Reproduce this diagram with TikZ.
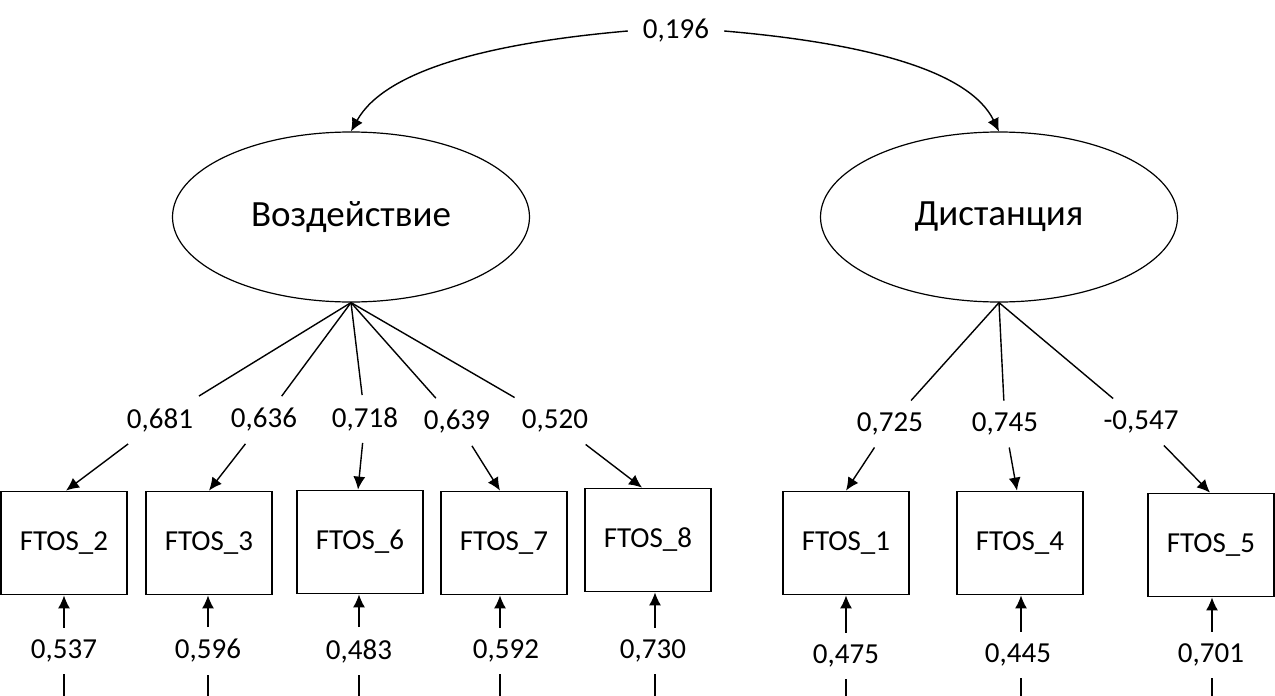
\documentclass[tikz,border=0pt]{standalone}
\usepackage{fontspec}
\setmainfont{Carlito}
\usetikzlibrary{shapes.geometric,arrows.meta}
\begin{document}
\begin{tikzpicture}[x=1pt,y=-1pt,
  lat/.style={draw,ellipse,line width=1.2pt,minimum width=357pt,minimum height=170pt,inner sep=0pt,font=\fontsize{37}{42}\selectfont},
  obs/.style={draw,rectangle,line width=1.8pt,minimum width=126pt,minimum height=103pt,inner sep=0pt,font=\fontsize{29}{34}\selectfont},
  lab/.style={inner xsep=15pt,inner ysep=12pt,font=\fontsize{29}{34}\selectfont},
  ln/.style={line width=1.4pt},
  arr/.style={line width=1.4pt,-{Latex[length=13pt,width=12pt]}}]
\useasboundingbox (0,0) rectangle (1275,696);
% latent variables
\node[lat] (e1) at (351,217) {Воздействие};
\node[lat] (e2) at (999,217) {Дистанция};
% covariance
\node[lab] (cov) at (676,31) {0,196};
\draw[arr] (cov.west) .. controls (490,43) and (385,70) .. (e1.north);
\draw[arr] (cov.east) .. controls (864,43) and (969,70) .. (e2.north);
% observed
\node[obs] (b2) at (64,543) {FTOS\_2};
\node[obs] (b3) at (209,543) {FTOS\_3};
\node[obs] (b6) at (360,542) {FTOS\_6};
\node[obs] (b7) at (504,543) {FTOS\_7};
\node[obs] (b8) at (648,540) {FTOS\_8};
\node[obs] (b1) at (846,543) {FTOS\_1};
\node[obs] (b4) at (1020,543) {FTOS\_4};
\node[obs] (b5) at (1211,545) {FTOS\_5};
% loadings
\node[lab] (l2) at (160,420) {0,681};
\node[lab] (l3) at (264,420) {0,636};
\node[lab] (l6) at (365,419) {0,718};
\node[lab] (l7) at (457,422) {0,639};
\node[lab] (l8) at (555,421) {0,520};
\node[lab] (l1) at (890,424) {0,725};
\node[lab] (l4) at (1005,424) {0,745};
\node[lab] (l5) at (1141,422) {-0,547};
\foreach \l/\b/\s in {l2/b2/2,l3/b3/0,l6/b6/-2,l7/b7/-4,l8/b8/-6}{
  \draw[ln] (e1.south) -- (\l);
  \draw[arr] (\l) -- ([xshift=\s pt]\b.north);
}
\foreach \l/\b/\s in {l1/b1/0,l4/b4/-3,l5/b5/-1}{
  \draw[ln] (e2.south) -- (\l);
  \draw[arr] (\l) -- ([xshift=\s pt]\b.north);
}
% errors
\node[lab] (u2) at (64,651) {0,537};
\node[lab] (u3) at (208,651) {0,596};
\node[lab] (u6) at (359,651) {0,483};
\node[lab] (u7) at (506,651) {0,592};
\node[lab] (u8) at (653,651) {0,730};
\node[lab] (u1) at (846,656) {0,475};
\node[lab] (u4) at (1018,655) {0,445};
\node[lab] (u5) at (1211,655) {0,701};
\coordinate (z2) at (64,700);
\coordinate (z3) at (208,700);
\coordinate (z6) at (359,700);
\coordinate (z7) at (500,700);
\coordinate (z8) at (655,700);
\coordinate (z1) at (846,700);
\coordinate (z4) at (1021,700);
\coordinate (z5) at (1212,700);
\foreach \n in {2,3,6,7,8,1,4,5}{
  \draw[ln] (z\n) -- (z\n |- u\n.south);
  \draw[arr] (z\n |- u\n.north) -- (z\n |- b\n.south);
}
\end{tikzpicture}
\end{document}
